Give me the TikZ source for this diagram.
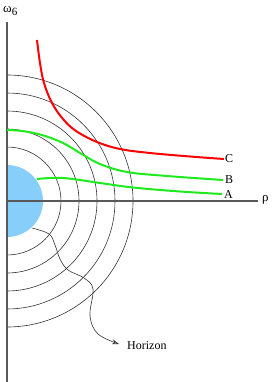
\documentclass[tikz,border=0pt]{standalone}
\usepackage{fontspec}
\setmainfont{Liberation Serif}
\usetikzlibrary{arrows.meta}
\definecolor{disc}{RGB}{135,206,250}
\definecolor{gr}{RGB}{30,235,30}
\tikzset{
  axis/.style={draw=black!65, line width=1.1pt},
  ring/.style={draw=black!80, line width=0.6pt},
  curvered/.style={draw=red, line width=2pt},
  curvegreen/.style={draw=gr, line width=2pt},
  lbl/.style={font=\fontsize{12}{14}\selectfont, inner sep=1pt}
}
\begin{document}
\begin{tikzpicture}[x=1pt,y=-1pt]
\useasboundingbox (0,0) rectangle (272,382);
\coordinate (O) at (7,201);
% blue half disc and rings
\begin{scope}
\clip (7,0) rectangle (272,382);
\fill[disc] (O) circle (36pt);
\foreach \r in {54,72,90,108,126} \draw[ring] (O) circle (\r pt);
\end{scope}
% axes
\coordinate (ytop) at (7,22);
\coordinate (ybot) at (7,382);
\coordinate (xend) at (258,201);
\draw[axis] (ytop) -- (ybot);
\draw[axis] (O) -- (xend);
\node[lbl, font=\fontsize{13}{15}\selectfont, anchor=west] (w6) at (2,11) {ω\raisebox{-0.45ex}{\fontsize{11}{13}\selectfont 6}};
\node[lbl, font=\fontsize{13}{15}\selectfont, anchor=west] (rho) at (261,200) {ρ};
% curves
\draw[curvered] plot[smooth, tension=0.6] coordinates {(37,40) (40,63) (44,83) (52,103) (63,119) (76,131) (97,142) (120,149) (150,153) (190,156.5) (224,159)};
\node[lbl, anchor=west] (C) at (224,159) {C};
\draw[curvegreen] plot[smooth, tension=0.6] coordinates {(7,130) (22,131) (42,135) (63,143) (80,153) (100,164) (127,172) (167,176) (223,180)};
\node[lbl, anchor=west] (B) at (224,180) {B};
\draw[curvegreen] plot[smooth, tension=0.6] coordinates {(37,179) (63,178) (100,183) (133,187.5) (180,191.5) (222,194)};
\node[lbl, anchor=west] (A) at (223,195) {A};
% horizon
\node[lbl, anchor=west] (hor) at (126,346) {Horizon};
\coordinate (tip) at (119,344);
\draw[black!80, line width=0.6pt, -{Stealth[open, length=7pt, width=5pt]}] plot[smooth, tension=0.6] coordinates {(32,228) (49,234) (55,245) (60,259) (68,270) (84,278) (93,289) (90,316) (98,334) (tip)};
\end{tikzpicture}
\end{document}
